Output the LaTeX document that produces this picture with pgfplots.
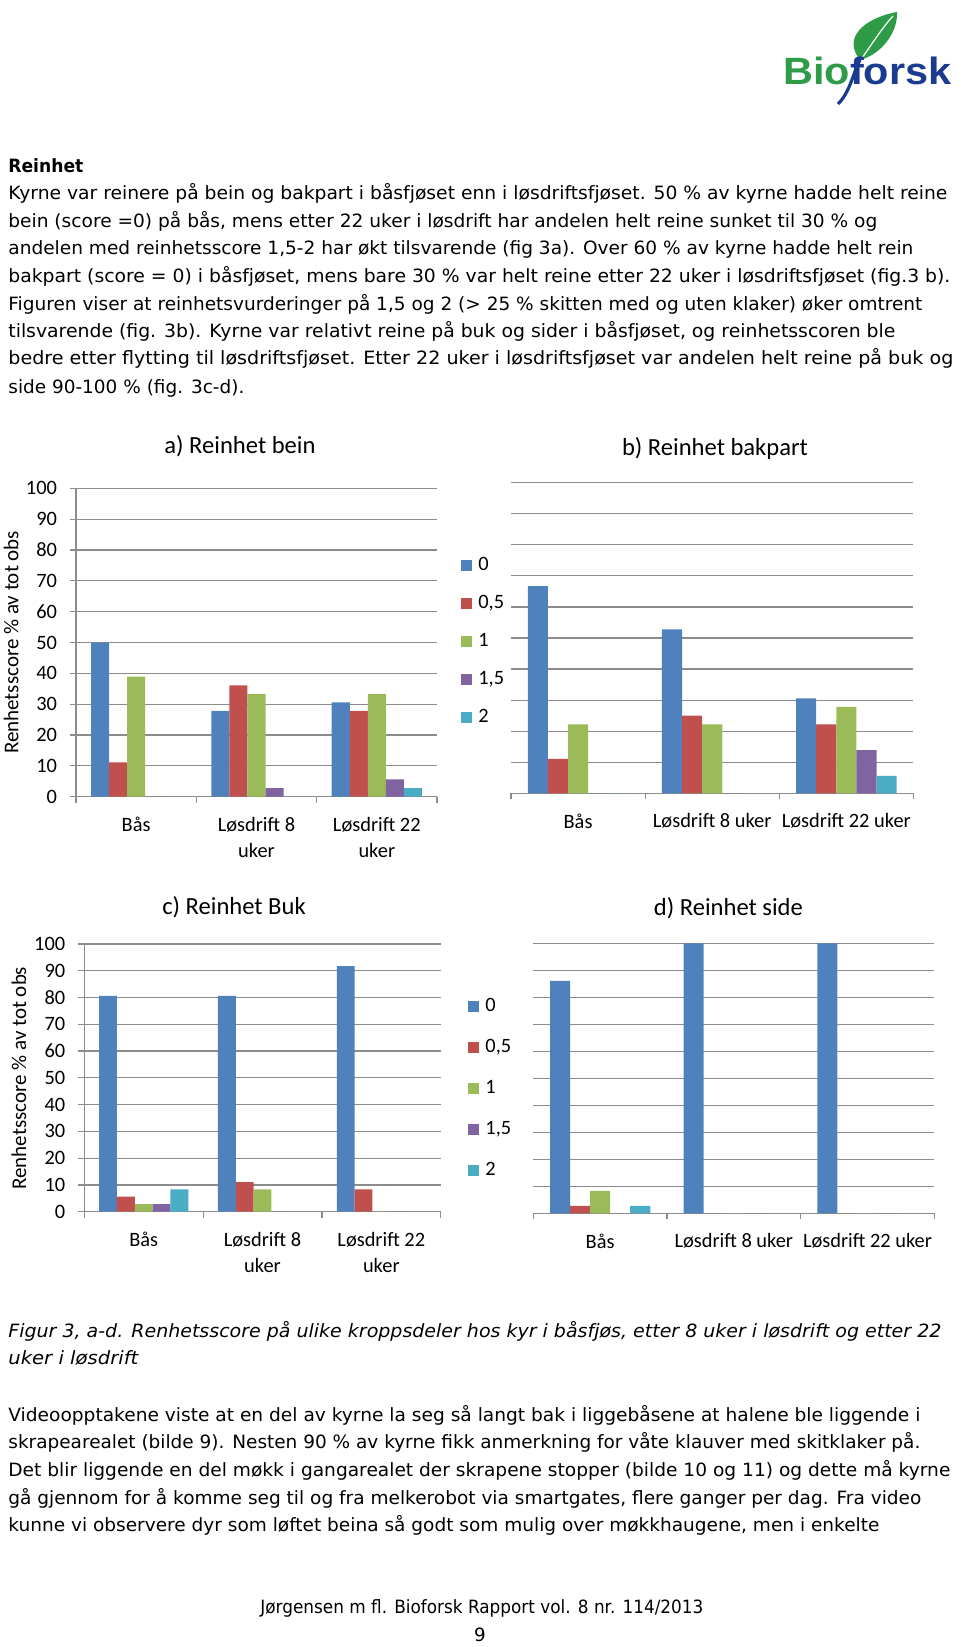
\documentclass[border=0pt]{standalone}
\usepackage{fontspec}
\usepackage{graphicx}
\usepackage{pgfplots}
\pgfplotsset{compat=1.18}
\newfontfamily\bodyfont{DejaVu Sans}
\newfontfamily\chartfont{Carlito}
\newfontfamily\logofont{Liberation Sans}
\definecolor{cA}{HTML}{4F81BD}
\definecolor{cB}{HTML}{C0504D}
\definecolor{cC}{HTML}{9BBB59}
\definecolor{cD}{HTML}{8064A2}
\definecolor{cE}{HTML}{4BACC6}
\definecolor{gridgray}{HTML}{8C8C8C}
\definecolor{logogreen}{HTML}{2E9B47}
\definecolor{logoblue}{HTML}{1B3C8E}
\newsavebox\fitbox
\newdimen\fitdim
\newcommand\fitline[2]{\sbox\fitbox{#2}\fitdim=\wd\fitbox\pgfmathsetmacro\fitf{#1/\the\fitdim}\scalebox{\fitf}[1]{\usebox\fitbox}}
\pgfplotsset{
  sq/.style={draw=none, fill=#1, legend image code/.code={\fill[#1] (0pt,-2.75pt) rectangle (5.5pt,2.75pt);}},
  chartbase/.style={
    anchor=south west, scale only axis,
    xmin=-0.5, xmax=2.5, ymin=0, ymax=100,
    ybar, bar width=0.15,
    axis lines*=left,
    axis line style={-, draw=gridgray, line width=0.6pt},
    xtick={-0.5,0.5,1.5,2.5}, xticklabels={},
    extra x ticks={0,1,2},
    extra x tick style={major tick length=0pt},
    ytick={0,10,...,100},
    ymajorgrids, grid style={draw=gridgray, line width=0.6pt},
    tick align=outside, major tick length=3pt,
    tick style={draw=gridgray, line width=0.6pt},
    tick label style={font=\chartfont\fontsize{10.2}{13}\selectfont, /pgf/number format/assume math mode=true},
    xticklabel style={align=center, yshift=-6.6pt},
    yticklabel style={xshift=-3pt},
    clip=false,
  },
  noyaxis/.style={y axis line style={draw=none}, ytick style={draw=none}, yticklabels={}},
  leg/.style={legend style={draw=none, fill=none, inner sep=0pt, row sep=#1, column sep=3pt,
      font=\chartfont\fontsize{10.2}{12}\selectfont, anchor=north west,
      nodes={inner sep=0pt, text height=7pt, text depth=2pt}},
    legend cell align=left},
}
\begin{document}
\begin{tikzpicture}
\useasboundingbox (0pt,0pt) rectangle (480pt,-823.5pt);
% ---------- logo ----------
\fill[logogreen] (430pt,-30pt) .. controls (421pt,-19pt) and (432pt,-9pt) .. (448.5pt,-6pt)
   .. controls (449pt,-16pt) and (441pt,-27pt) .. (430pt,-30pt) -- cycle;
\draw[white, line width=0.6pt] (431pt,-29pt) .. controls (436pt,-22pt) and (441pt,-14pt) .. (446.5pt,-8pt);
\draw[logoblue, line width=1.6pt] (430pt,-30pt) .. controls (426pt,-38pt) and (425pt,-46pt) .. (419pt,-52pt);
\node[anchor=base west, inner sep=0pt, font=\logofont\bfseries\fontsize{19}{20}\selectfont] at (391.5pt,-42.5pt)
  {\fitline{84}{\textcolor{logogreen}{Bio}\textcolor{logoblue}{forsk}}};
% ---------- body text ----------
\begin{scope}[every node/.style={anchor=base west, inner sep=0pt, font=\bodyfont\fontsize{9.15}{10}\selectfont}]
\node at (4pt,-86.4pt) {\fitline{37.5}{\bfseries Reinhet}};
\node at (4pt,-99.7pt) {\fitline{469.5}{Kyrne var reinere på bein og bakpart i båsfjøset enn i løsdriftsfjøset. 50 \% av kyrne hadde helt reine}};
\node at (4pt,-113.6pt) {\fitline{434.5}{bein (score =0) på bås, mens etter 22 uker i løsdrift har andelen helt reine sunket til 30 \% og}};
\node at (4pt,-127.3pt) {\fitline{452.5}{andelen med reinhetsscore 1,5-2 har økt tilsvarende (fig 3a). Over 60 \% av kyrne hadde helt rein}};
\node at (4pt,-141.3pt) {\fitline{471}{bakpart (score = 0) i båsfjøset, mens bare 30 \% var helt reine etter 22 uker i løsdriftsfjøset (fig.3 b).}};
\node at (4pt,-155.05pt) {\fitline{457}{Figuren viser at reinhetsvurderinger på 1,5 og 2 (> 25 \% skitten med og uten klaker) øker omtrent}};
\node at (4pt,-168.8pt) {\fitline{443.5}{tilsvarende (fig. 3b). Kyrne var relativt reine på buk og sider i båsfjøset, og reinhetsscoren ble}};
\node at (4pt,-182.3pt) {\fitline{472.5}{bedre etter flytting til løsdriftsfjøset. Etter 22 uker i løsdriftsfjøset var andelen helt reine på buk og}};
\node at (4pt,-196.55pt) {\fitline{118}{side 90-100 \% (fig. 3c-d).}};
\node at (4pt,-668.5pt) {\fitline{466.5}{\itshape Figur 3, a-d. Renhetsscore på ulike kroppsdeler hos kyr i båsfjøs, etter 8 uker i løsdrift og etter 22}};
\node at (4pt,-682pt) {\fitline{65}{\itshape uker i løsdrift}};
\node at (4pt,-710.5pt) {\fitline{456}{Videoopptakene viste at en del av kyrne la seg så langt bak i liggebåsene at halene ble liggende i}};
\node at (4pt,-724pt) {\fitline{456}{skrapearealet (bilde 9). Nesten 90 \% av kyrne fikk anmerkning for våte klauver med skitklaker på.}};
\node at (4pt,-738pt) {\fitline{471}{Det blir liggende en del møkk i gangarealet der skrapene stopper (bilde 10 og 11) og dette må kyrne}};
\node at (4pt,-752pt) {\fitline{456.5}{gå gjennom for å komme seg til og fra melkerobot via smartgates, flere ganger per dag. Fra video}};
\node at (4pt,-765.5pt) {\fitline{435.5}{kunne vi observere dyr som løftet beina så godt som mulig over møkkhaugene, men i enkelte}};
\node at (130pt,-806.5pt) {\fitline{221.5}{Jørgensen m fl. Bioforsk Rapport vol. 8 nr. 114/2013}};
\node[anchor=base] at (240pt,-820.5pt) {9};
\end{scope}
% ---------- chart titles and y labels ----------
\begin{scope}[every node/.style={inner sep=0pt, font=\chartfont\fontsize{12.3}{14}\selectfont}]
\node at (120pt,-223pt) {a) Reinhet bein};
\node at (357.5pt,-224pt) {b) Reinhet bakpart};
\node at (117pt,-453.5pt) {c) Reinhet Buk};
\node at (364.2pt,-454pt) {d) Reinhet side};
\end{scope}
\node[rotate=90, inner sep=0pt, font=\chartfont\fontsize{10.5}{12}\selectfont] at (5.6pt,-321.25pt) {Renhetsscore \% av tot obs};
\node[rotate=90, inner sep=0pt, font=\chartfont\fontsize{10.5}{12}\selectfont] at (9.5pt,-539.15pt) {Renhetsscore \% av tot obs};
% ---------- a) ----------
\begin{axis}[chartbase, at={(38pt,-398.35pt)}, width=180.5pt, height=154.2pt,
  extra x tick labels={Bås,{Løsdrift 8\\uker},{Løsdrift 22\\uker}}]
\addplot[sq=cA, bar shift=-0.3] coordinates {(0,50) (1,27.8) (2,30.6)};
\addplot[sq=cB, bar shift=-0.15] coordinates {(0,11.1) (1,36.1) (2,27.8)};
\addplot[sq=cC, bar shift=0] coordinates {(0,38.9) (1,33.3) (2,33.3)};
\addplot[sq=cD, bar shift=0.15] coordinates {(0,0) (1,2.8) (2,5.6)};
\addplot[sq=cE, bar shift=0.3] coordinates {(0,0) (1,0) (2,2.8)};
\end{axis}
% ---------- b) ----------
\begin{axis}[chartbase, noyaxis, at={(255.5pt,-396.65pt)}, width=201.2pt, height=155.3pt,
  extra x tick labels={Bås,Løsdrift 8 uker,Løsdrift 22 uker},
  leg=9.95pt, legend style={at={(-0.1243,0.7627)}}]
\addplot[sq=cA, bar shift=-0.3] coordinates {(0,66.7) (1,52.8) (2,30.6)};
\addlegendentry{0}
\addplot[sq=cB, bar shift=-0.15] coordinates {(0,11.1) (1,25.0) (2,22.2)};
\addlegendentry{0,5}
\addplot[sq=cC, bar shift=0] coordinates {(0,22.2) (1,22.2) (2,27.8)};
\addlegendentry{1}
\addplot[sq=cD, bar shift=0.15] coordinates {(0,0) (1,0) (2,13.9)};
\addlegendentry{1,5}
\addplot[sq=cE, bar shift=0.3] coordinates {(0,0) (1,0) (2,5.6)};
\addlegendentry{2}
\end{axis}
% ---------- c) ----------
\begin{axis}[chartbase, at={(42.15pt,-605.85pt)}, width=178.2pt, height=133.85pt,
  extra x tick labels={Bås,{Løsdrift 8\\uker},{Løsdrift 22\\uker}}]
\addplot[sq=cA, bar shift=-0.3] coordinates {(0,80.6) (1,80.6) (2,91.7)};
\addplot[sq=cB, bar shift=-0.15] coordinates {(0,5.6) (1,11.1) (2,8.3)};
\addplot[sq=cC, bar shift=0] coordinates {(0,2.8) (1,8.3) (2,0)};
\addplot[sq=cD, bar shift=0.15] coordinates {(0,2.8) (1,0) (2,0)};
\addplot[sq=cE, bar shift=0.3] coordinates {(0,8.3) (1,0) (2,0)};
\end{axis}
% ---------- d) ----------
\begin{axis}[chartbase, noyaxis, at={(266.65pt,-606.65pt)}, width=200.5pt, height=135pt,
  extra x tick labels={Bås,Løsdrift 8 uker,Løsdrift 22 uker},
  leg=11.5pt, legend style={at={(-0.1628,0.799)}}]
\addplot[sq=cA, bar shift=-0.3] coordinates {(0,86.1) (1,100) (2,100)};
\addlegendentry{0}
\addplot[sq=cB, bar shift=-0.15] coordinates {(0,2.8) (1,0) (2,0)};
\addlegendentry{0,5}
\addplot[sq=cC, bar shift=0] coordinates {(0,8.3) (1,0) (2,0)};
\addlegendentry{1}
\addplot[sq=cD, bar shift=0.15] coordinates {(0,0) (1,0) (2,0)};
\addlegendentry{1,5}
\addplot[sq=cE, bar shift=0.3] coordinates {(0,2.8) (1,0) (2,0)};
\addlegendentry{2}
\end{axis}
\end{tikzpicture}
\end{document}
